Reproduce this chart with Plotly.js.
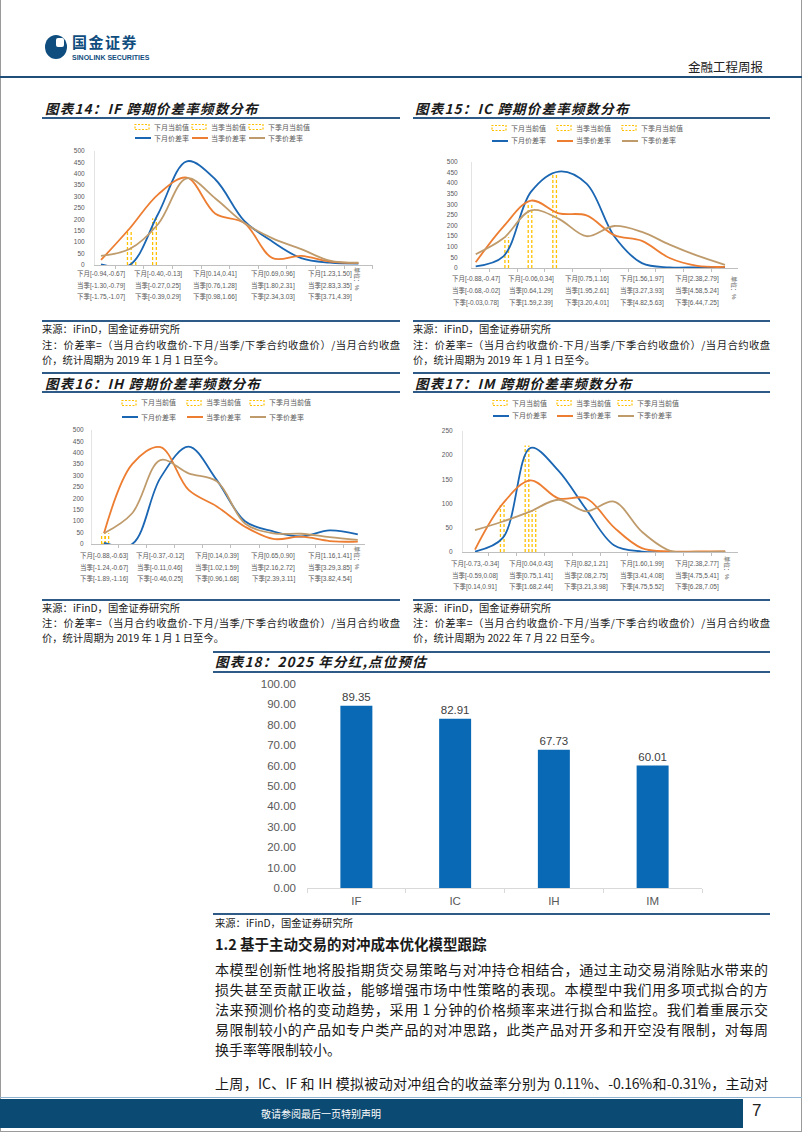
<!DOCTYPE html>
<html><head><meta charset="utf-8">
<script src="https://cdn.plot.ly/plotly-3.0.1.min.js"></script>
<style>
html,body{margin:0;padding:0;background:#fff;}
body{width:802px;height:1133px;position:relative;overflow:hidden;font-family:"Noto Sans CJK SC","Liberation Sans",sans-serif;color:#1a1a1a;}
.a{position:absolute;white-space:nowrap;}
.hl{position:absolute;height:1.5px;background:#2E5A87;}
.ct{position:absolute;font-size:13.5px;font-weight:bold;font-style:italic;letter-spacing:1.2px;line-height:18px;color:#1a1a1a;white-space:nowrap;}
.src{position:absolute;font-size:10.3px;line-height:15px;white-space:nowrap;}
.jl{position:absolute;text-align:justify;text-align-last:justify;white-space:nowrap;}
.para{position:absolute;left:215px;width:553px;font-size:14px;line-height:20px;}
.pl{position:absolute;}
</style></head><body>
<div class="a" style="left:0;top:0;width:800px;height:1131px;border-left:1px solid #9a9a9a;border-right:1px solid #9a9a9a;border-bottom:1px solid #9a9a9a;"></div>

<!-- header -->
<div class="a" style="left:45px;top:35px;width:22px;height:24px;border-radius:50%;background:#0F4D7E;"></div>
<div class="a" style="left:56px;top:38px;width:8px;height:9px;border-radius:2px;background:#fff;"></div>
<div class="a" style="left:72px;top:34px;font-size:15px;line-height:16px;font-weight:bold;color:#0F4D7E;letter-spacing:1.5px;">国金证券</div>
<div class="a" style="left:72px;top:54px;font-size:7px;line-height:7px;font-weight:bold;color:#0F4D7E;font-family:'Liberation Sans',sans-serif;">SINOLINK SECURITIES</div>
<div class="a" style="left:688px;top:57px;font-size:12.5px;color:#222;">金融工程周报</div>
<div class="hl" style="left:0;top:76px;width:802px;background:#1F4E79;"></div>

<!-- chart titles top -->
<div class="ct" style="left:45px;top:99px;">图表14：IF 跨期价差率频数分布</div>
<div class="hl" style="left:42px;top:117px;width:358px;"></div>
<div class="ct" style="left:415px;top:99px;">图表15：IC 跨期价差率频数分布</div>
<div class="hl" style="left:413px;top:117px;width:357px;"></div>

<div id="c14" class="pl" style="left:42px;top:120px;"></div>
<div id="c15" class="pl" style="left:413px;top:120px;"></div>

<div class="hl" style="left:42px;top:320px;width:358px;"></div>
<div class="hl" style="left:413px;top:320px;width:357px;"></div>
<div class="src" style="left:42px;top:321px;">来源：iFinD，国金证券研究所</div>
<div class="src" style="left:413px;top:321px;">来源：iFinD，国金证券研究所</div>
<div class="src jl" style="left:42px;top:337px;width:358px;">注：价差率=（当月合约收盘价-下月/当季/下季合约收盘价）/当月合约收盘</div>
<div class="src" style="left:42px;top:352px;">价，统计周期为 2019 年 1 月 1 日至今。</div>
<div class="src jl" style="left:413px;top:337px;width:357px;">注：价差率=（当月合约收盘价-下月/当季/下季合约收盘价）/当月合约收盘</div>
<div class="src" style="left:413px;top:352px;">价，统计周期为 2019 年 1 月 1 日至今。</div>

<!-- chart titles lower -->
<div class="hl" style="left:42px;top:372px;width:358px;"></div>
<div class="hl" style="left:413px;top:372px;width:357px;"></div>
<div class="ct" style="left:45px;top:374px;">图表16：IH 跨期价差率频数分布</div>
<div class="hl" style="left:42px;top:391px;width:358px;"></div>
<div class="ct" style="left:415px;top:374px;">图表17：IM 跨期价差率频数分布</div>
<div class="hl" style="left:413px;top:391px;width:357px;"></div>

<div id="c16" class="pl" style="left:42px;top:395px;"></div>
<div id="c17" class="pl" style="left:413px;top:395px;"></div>

<div class="hl" style="left:42px;top:599px;width:358px;"></div>
<div class="hl" style="left:413px;top:599px;width:357px;"></div>
<div class="src" style="left:42px;top:600px;">来源：iFinD，国金证券研究所</div>
<div class="src" style="left:413px;top:600px;">来源：iFinD，国金证券研究所</div>
<div class="src jl" style="left:42px;top:615px;width:358px;">注：价差率=（当月合约收盘价-下月/当季/下季合约收盘价）/当月合约收盘</div>
<div class="src" style="left:42px;top:630px;">价，统计周期为 2019 年 1 月 1 日至今。</div>
<div class="src jl" style="left:413px;top:615px;width:357px;">注：价差率=（当月合约收盘价-下月/当季/下季合约收盘价）/当月合约收盘</div>
<div class="src" style="left:413px;top:630px;">价，统计周期为 2022 年 7 月 22 日至今。</div>

<!-- bar chart -->
<div class="hl" style="left:213px;top:651px;width:557px;"></div>
<div class="ct" style="left:215px;top:652px;">图表18：2025 年分红,点位预估</div>
<div class="hl" style="left:213px;top:671px;width:557px;"></div>
<div id="c18" class="pl" style="left:213px;top:672px;"></div>
<div class="hl" style="left:213px;top:913px;width:557px;"></div>
<div class="src" style="left:215px;top:915px;">来源：iFinD，国金证券研究所</div>

<!-- text -->
<div class="a" style="left:215px;top:934px;font-size:14.5px;font-weight:bold;line-height:20px;">1.2 基于主动交易的对冲成本优化模型跟踪</div>
<div class="para jl" style="top:959px;">本模型创新性地将股指期货交易策略与对冲持仓相结合，通过主动交易消除贴水带来的</div>
<div class="para jl" style="top:979px;">损失甚至贡献正收益，能够增强市场中性策略的表现。本模型中我们用多项式拟合的方</div>
<div class="para jl" style="top:999px;">法来预测价格的变动趋势，采用 1 分钟的价格频率来进行拟合和监控。我们着重展示交</div>
<div class="para jl" style="top:1019px;">易限制较小的产品如专户类产品的对冲思路，此类产品对开多和开空没有限制，对每周</div>
<div class="para" style="top:1039px;">换手率等限制较小。</div>
<div class="para jl" style="top:1073px;letter-spacing:-0.2px;">上周，IC、IF 和 IH 模拟被动对冲组合的收益率分别为 0.11%、-0.16%和-0.31%，主动对</div>

<!-- footer -->
<div class="a" style="left:0;top:1097px;width:802px;height:1px;background:#8FB3D0;"></div>
<div class="a" style="left:0;top:1099px;width:743px;height:29px;background:#0B4A72;"></div>
<div class="a" style="left:221px;top:1106px;width:200px;text-align:center;font-size:10px;color:#fff;">敬请参阅最后一页特别声明</div>
<div class="a" style="left:752px;top:1101px;font-size:17px;color:#222;font-family:'Liberation Sans',sans-serif;">7</div>

<script>
// ---------------- data ----------------
const nowNames    = ['下月当前值', '当季当前值', '下季月当前值'];
const spreadNames = ['下月价差率', '当季价差率', '下季价差率'];

// 图表14 IF
const ifNextMonth   = [3, 0, 225, 455, 375, 195, 102, 30, 10, 6];
const ifThisQuarter = [22, 160, 310, 383, 225, 185, 30, 40, 15, 9];
const ifNextQuarter = [40, 70, 180, 380, 292, 185, 117, 70, 19, 10];
const ifNowPos = [1.15, 0.99, 1.87];
const ifNowVal = [22, 155, 205];
const ifLblNext = ['下月[-0.94,-0.67]', '下月[-0.40,-0.13]', '下月[0.14,0.41]', '下月[0.69,0.96]', '下月[1.23,1.50]'];
const ifLblQtr  = ['当季[-1.30,-0.79]', '当季[-0.27,0.25]', '当季[0.76,1.28]', '当季[1.80,2.31]', '当季[2.83,3.35]'];
const ifLblNQ   = ['下季[-1.75,-1.07]', '下季[-0.39,0.29]', '下季[0.98,1.66]', '下季[2.34,3.03]', '下季[3.71,4.39]'];

// 图表15 IC
const icNextMonth   = [8, 55, 360, 455, 398, 150, 23, 3, 3, 3];
const icThisQuarter = [27, 195, 318, 258, 248, 155, 128, 47, 10, 5];
const icNextQuarter = [65, 140, 272, 232, 150, 198, 170, 110, 58, 15];
const icNowPos = [2.85, 1.96, 1.12];
const icNowVal = [440, 300, 145];
const icLblNext = ['下月[-0.88,-0.47]', '下月[-0.06,0.34]', '下月[0.75,1.16]', '下月[1.56,1.97]', '下月[2.38,2.79]'];
const icLblQtr  = ['当季[-0.68,-0.02]', '当季[0.64,1.29]', '当季[1.95,2.61]', '当季[3.27,3.93]', '当季[4.58,5.24]'];
const icLblNQ   = ['下季[-0.03,0.78]', '下季[1.59,2.39]', '下季[3.20,4.01]', '下季[4.82,5.63]', '下季[6.44,7.25]'];

// 图表16 IH
const ihNextMonth   = [5, 0, 290, 427, 280, 100, 55, 33, 60, 42];
const ihThisQuarter = [47, 350, 425, 237, 165, 76, 22, 32, 13, 10];
const ihNextQuarter = [47, 135, 368, 310, 275, 90, 47, 45, 30, 18];
const ihNowPos = [0.03, -0.02, 0.1];
const ihNowVal = [5, 45, 47];
const ihLblNext = ['下月[-0.88,-0.63]', '下月[-0.37,-0.12]', '下月[0.14,0.39]', '下月[0.65,0.90]', '下月[1.16,1.41]'];
const ihLblQtr  = ['当季[-1.24,-0.67]', '当季[-0.11,0.46]', '当季[1.02,1.59]', '当季[2.16,2.72]', '当季[3.29,3.85]'];
const ihLblNQ   = ['下季[-1.89,-1.16]', '下季[-0.46,0.25]', '下季[0.96,1.68]', '下季[2.39,3.11]', '下季[3.82,4.54]'];

// 图表17 IM
const imNextMonth   = [1, 29, 215, 168, 88, 14, 1, 0, 0, 0];
const imThisQuarter = [5, 100, 148, 111, 111, 51, 8, 1, 1, 1];
const imNextQuarter = [45, 63, 84, 108, 84, 104, 42, 3, 0, 1];
const imNowPos = [1.87, 0.98, 2.12];
const imNowVal = [220, 97, 85];
const imLblNext = ['下月[-0.73,-0.34]', '下月[0.04,0.43]', '下月[0.82,1.21]', '下月[1.60,1.99]', '下月[2.38,2.77]'];
const imLblQtr  = ['当季[-0.59,0.08]', '当季[0.75,1.41]', '当季[2.08,2.75]', '当季[3.41,4.08]', '当季[4.75,5.41]'];
const imLblNQ   = ['下季[0.14,0.91]', '下季[1.68,2.44]', '下季[3.21,3.98]', '下季[4.75,5.52]', '下季[6.28,7.05]'];

// 图表18
const divCats = ['IF', 'IC', 'IH', 'IM'];
const divVals = [89.35, 82.91, 67.73, 60.01];

// ---------------- drawing ----------------
const FONT = '"Liberation Sans", Arial, "Noto Sans CJK SC", sans-serif';
const LINE_COLORS = ['#1A66B3', '#ED7D31', '#BF9B6C'];
const YEL = '#FFC000';
const GREY = '#595959';

function distChart(id, g, series, nowPos, nowVal, labelRows) {
  const w = g.plotRight - g.plotLeft, h = g.plotBottom - g.plotTop;
  const px = p => (p - g.plotLeft) / w;
  const py = p => (g.plotBottom - p) / h;
  const xs = series[0].map((_, i) => i);
  const traces = [];
  const hw = 0.065;
  nowPos.forEach((p, k) => {
    traces.push({type: 'scatter', mode: 'lines', name: nowNames[k],
      x: [p - hw, p - hw, null, p + hw, p + hw], y: [0, nowVal[k], null, 0, nowVal[k]],
      line: {color: YEL, width: 1.3, dash: '3px,2px'}, hoverinfo: 'skip'});
  });
  series.forEach((s, k) => {
    traces.push({type: 'scatter', mode: 'lines', name: spreadNames[k], x: xs, y: s,
      line: {color: LINE_COLORS[k], width: 1.8, shape: 'spline', smoothing: 1}});
  });
  const shapes = [], ann = [];
  const lf = {size: 7, color: GREY, family: FONT};
  for (let k = 0; k < 3; k++) {
    const x = g.legX[k];
    shapes.push({type: 'rect', xref: 'paper', yref: 'paper', x0: px(x), x1: px(x + 14), y0: py(g.leg1 + 2.5), y1: py(g.leg1 - 2.5),
      line: {color: YEL, width: 1.2, dash: '2px,1.5px'}, fillcolor: 'rgba(0,0,0,0)'});
    ann.push({xref: 'paper', yref: 'paper', x: px(x + 17), y: py(g.leg1), xanchor: 'left', yanchor: 'middle', showarrow: false, text: nowNames[k], font: lf});
    shapes.push({type: 'line', xref: 'paper', yref: 'paper', x0: px(x), x1: px(x + 16), y0: py(g.leg2), y1: py(g.leg2),
      line: {color: LINE_COLORS[k], width: 2}});
    ann.push({xref: 'paper', yref: 'paper', x: px(x + 17), y: py(g.leg2), xanchor: 'left', yanchor: 'middle', showarrow: false, text: spreadNames[k], font: lf});
  }
  labelRows.forEach((row, r) => {
    row.forEach((t, j) => {
      ann.push({xref: 'x', yref: 'paper', x: j * 2, y: 0, yanchor: 'middle', yshift: -g.rowOff[r], showarrow: false, text: t,
        font: {size: 6.5, color: GREY, family: FONT}});
    });
  });
  ann.push({xref: 'paper', yref: 'paper', x: px(g.unitX), y: 0, yanchor: 'middle', yshift: -(g.unitY - g.plotBottom), showarrow: false,
    text: '单位：%', textangle: 90, font: {size: 6, color: GREY, family: FONT}});
  const layout = {
    width: g.divW, height: g.divH,
    margin: {l: g.plotLeft - g.divLeft, r: g.divLeft + g.divW - g.plotRight, t: g.plotTop - g.divTop, b: g.divTop + g.divH - g.plotBottom, pad: 0},
    paper_bgcolor: 'rgba(0,0,0,0)', plot_bgcolor: 'rgba(0,0,0,0)', showlegend: false,
    xaxis: {range: [(g.plotLeft - g.x0) / g.step, (g.plotRight - g.x0) / g.step], showgrid: false, zeroline: false,
      showline: true, linecolor: '#BFBFBF', linewidth: 1, ticks: 'outside', tickmode: 'linear', tick0: -0.5, dtick: 1,
      ticklen: 3, tickcolor: '#BFBFBF', showticklabels: false, fixedrange: true},
    yaxis: {range: [0, g.ymax], tickmode: 'linear', tick0: 0, dtick: g.dtick, showgrid: false, zeroline: false,
      showline: true, linecolor: '#E3E3E3', ticks: '', tickfont: {size: 6.5, color: GREY, family: FONT},
      ticklabelstandoff: g.standoff, fixedrange: true},
    shapes: shapes, annotations: ann
  };
  Plotly.newPlot(id, traces, layout, {displayModeBar: false, staticPlot: true});
}

distChart('c14', {divLeft: 42, divTop: 120, divW: 360, divH: 190, plotLeft: 95, plotRight: 373, plotTop: 151, plotBottom: 265,
  x0: 101, step: 28.6, ymax: 500, dtick: 50, standoff: 8, rowOff: [9, 20, 31], leg1: 127, leg2: 138, legX: [135, 192, 249],
  unitX: 363, unitY: 279},
  [ifNextMonth, ifThisQuarter, ifNextQuarter], ifNowPos, ifNowVal, [ifLblNext, ifLblQtr, ifLblNQ]);

distChart('c15', {divLeft: 413, divTop: 120, divW: 360, divH: 190, plotLeft: 472, plotRight: 738, plotTop: 162, plotBottom: 268,
  x0: 475.7, step: 27.7, ymax: 500, dtick: 50, standoff: 12, rowOff: [11, 22, 34], leg1: 128, leg2: 141, legX: [492, 557, 622],
  unitX: 740, unitY: 288},
  [icNextMonth, icThisQuarter, icNextQuarter], icNowPos, icNowVal, [icLblNext, icLblQtr, icLblNQ]);

distChart('c16', {divLeft: 42, divTop: 395, divW: 360, divH: 200, plotLeft: 92, plotRight: 365, plotTop: 430, plotBottom: 544,
  x0: 104, step: 28.2, ymax: 500, dtick: 50, standoff: 6, rowOff: [12, 23, 34], leg1: 403, leg2: 417, legX: [122, 187, 250],
  unitX: 363, unitY: 558},
  [ihNextMonth, ihThisQuarter, ihNextQuarter], ihNowPos, ihNowVal, [ihLblNext, ihLblQtr, ihLblNQ]);

distChart('c17', {divLeft: 413, divTop: 395, divW: 360, divH: 200, plotLeft: 463, plotRight: 738, plotTop: 431, plotBottom: 552,
  x0: 475, step: 27.8, ymax: 250, dtick: 50, standoff: 8, rowOff: [12, 23, 34], leg1: 403, leg2: 416, legX: [493, 557, 618],
  unitX: 733, unitY: 568},
  [imNextMonth, imThisQuarter, imNextQuarter], imNowPos, imNowVal, [imLblNext, imLblQtr, imLblNQ]);

// bar chart
(function () {
  const g = {divLeft: 213, divTop: 672, divW: 557, divH: 240, plotLeft: 307, plotRight: 702, plotTop: 684, plotBottom: 888};
  const trace = {type: 'bar', x: divCats, y: divVals, marker: {color: '#0A69B4'},
    text: divVals.map(v => v.toFixed(2)), textposition: 'outside', cliponaxis: false,
    textfont: {size: 11.5, color: '#404040', family: FONT}, hoverinfo: 'skip'};
  const layout = {
    width: g.divW, height: g.divH,
    margin: {l: g.plotLeft - g.divLeft, r: g.divLeft + g.divW - g.plotRight, t: g.plotTop - g.divTop, b: g.divTop + g.divH - g.plotBottom, pad: 0},
    paper_bgcolor: 'rgba(0,0,0,0)', plot_bgcolor: 'rgba(0,0,0,0)', showlegend: false, bargap: 0.676,
    xaxis: {type: 'category', showgrid: false, zeroline: false, showline: true, linecolor: '#D9D9D9', ticks: 'outside',
      tickson: 'boundaries', ticklen: 4, tickcolor: '#D9D9D9', tickfont: {size: 11.5, color: GREY, family: FONT}, ticklabelstandoff: 2},
    yaxis: {range: [0, 100], tickmode: 'linear', tick0: 0, dtick: 10, tickformat: '.2f', showgrid: false, zeroline: false,
      showline: false, ticks: '', tickfont: {size: 11.5, color: GREY, family: FONT}, ticklabelstandoff: 10}
  };
  Plotly.newPlot('c18', [trace], layout, {displayModeBar: false, staticPlot: true});
})();
</script>
</body></html>
